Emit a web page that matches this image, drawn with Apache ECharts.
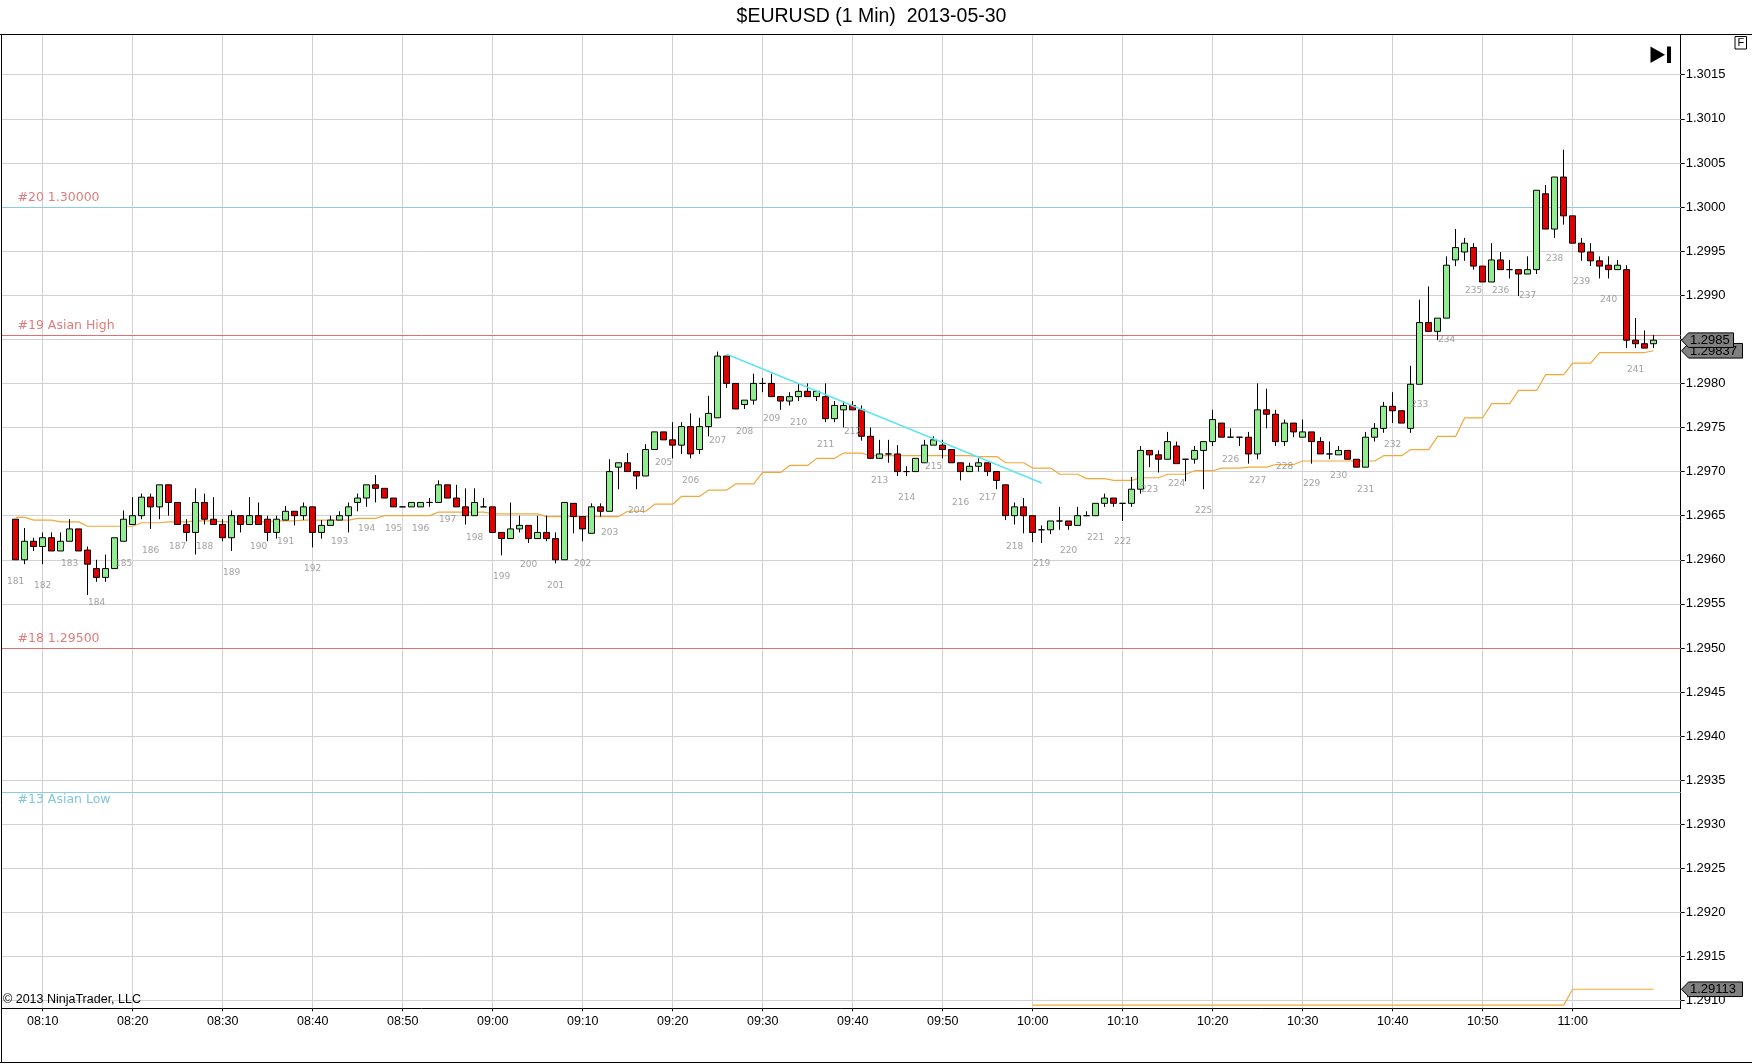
<!DOCTYPE html>
<html><head><meta charset="utf-8">
<script src="https://cdn.jsdelivr.net/npm/echarts@6/dist/echarts.min.js"></script>
<style>html,body{margin:0;padding:0;background:#fff;overflow:hidden}#c{width:1752px;height:1064px}</style>
</head><body><div id="c"></div>
<script>
const chartTitle = '$EURUSD (1 Min)  2013-05-30';
const copyrightText = '\u00A9 2013 NinjaTrader, LLC';
const firstBarTime = '08:07';

const opens = [
1.29646,1.29600,1.29621,1.29615,1.29625,1.29610,1.29621,1.29635,1.29611,1.29590,
1.29580,1.29590,1.29621,1.29640,1.29650,1.29671,1.29660,1.29685,1.29665,1.29640,
1.29631,1.29665,1.29646,1.29640,1.29625,1.29650,1.29640,1.29650,1.29646,1.29631,
1.29645,1.29655,1.29650,1.29660,1.29631,1.29639,1.29645,1.29650,1.29665,1.29670,
1.29685,1.29681,1.29670,1.29660,1.29660,1.29660,1.29665,1.29665,1.29685,1.29670,
1.29660,1.29650,1.29660,1.29660,1.29631,1.29624,1.29635,1.29639,1.29624,1.29631,
1.29624,1.29600,1.29664,1.29649,1.29630,1.29660,1.29655,1.29705,1.29710,1.29700,
1.29695,1.29725,1.29745,1.29736,1.29730,1.29751,1.29725,1.29751,1.29761,1.29831,
1.29800,1.29776,1.29781,1.29800,1.29800,1.29785,1.29780,1.29785,1.29791,1.29785,
1.29785,1.29760,1.29770,1.29775,1.29770,1.29740,1.29715,1.29720,1.29720,1.29700,
1.29700,1.29710,1.29730,1.29730,1.29725,1.29710,1.29700,1.29706,1.29710,1.29700,
1.29685,1.29650,1.29660,1.29650,1.29634,1.29634,1.29644,1.29644,1.29639,1.29650,
1.29650,1.29664,1.29670,1.29664,1.29664,1.29680,1.29724,1.29719,1.29714,1.29729,
1.29714,1.29714,1.29724,1.29734,1.29755,1.29739,1.29739,1.29739,1.29720,1.29770,
1.29765,1.29734,1.29755,1.29739,1.29745,1.29734,1.29720,1.29719,1.29724,1.29714,
1.29705,1.29739,1.29749,1.29774,1.29769,1.29749,1.29799,1.29869,1.29859,1.29874,
1.29940,1.29949,1.29954,1.29933,1.29915,1.29940,1.29929,1.29929,1.29924,1.29929,
1.30015,1.29975,1.30034,1.29990,1.29959,1.29949,1.29939,1.29934,1.29929,1.29929,
1.29849,1.29845,1.29845
];
const highs = [
1.29646,1.29636,1.29625,1.29631,1.29631,1.29631,1.29646,1.29635,1.29615,1.29600,
1.29606,1.29625,1.29656,1.29671,1.29675,1.29675,1.29685,1.29685,1.29665,1.29646,
1.29681,1.29675,1.29671,1.29646,1.29656,1.29650,1.29671,1.29665,1.29650,1.29650,
1.29661,1.29655,1.29665,1.29660,1.29645,1.29650,1.29655,1.29665,1.29675,1.29685,
1.29696,1.29681,1.29670,1.29660,1.29665,1.29665,1.29670,1.29690,1.29685,1.29685,
1.29681,1.29681,1.29670,1.29660,1.29631,1.29665,1.29650,1.29639,1.29650,1.29650,
1.29631,1.29665,1.29664,1.29649,1.29664,1.29664,1.29714,1.29710,1.29721,1.29700,
1.29731,1.29745,1.29745,1.29756,1.29756,1.29766,1.29761,1.29786,1.29836,1.29831,
1.29800,1.29781,1.29811,1.29806,1.29811,1.29785,1.29790,1.29800,1.29800,1.29791,
1.29800,1.29780,1.29780,1.29780,1.29775,1.29750,1.29736,1.29736,1.29730,1.29706,
1.29715,1.29736,1.29740,1.29736,1.29725,1.29710,1.29710,1.29715,1.29710,1.29700,
1.29685,1.29665,1.29670,1.29650,1.29639,1.29644,1.29660,1.29644,1.29660,1.29655,
1.29664,1.29675,1.29670,1.29664,1.29694,1.29729,1.29724,1.29724,1.29745,1.29734,
1.29714,1.29729,1.29734,1.29770,1.29755,1.29749,1.29739,1.29745,1.29800,1.29794,
1.29770,1.29759,1.29755,1.29759,1.29745,1.29739,1.29734,1.29729,1.29724,1.29714,
1.29745,1.29755,1.29779,1.29790,1.29769,1.29820,1.29895,1.29910,1.29874,1.29944,
1.29975,1.29965,1.29959,1.29933,1.29959,1.29949,1.29940,1.29929,1.29944,1.30019,
1.30025,1.30034,1.30065,1.29990,1.29965,1.29959,1.29944,1.29944,1.29940,1.29934,
1.29874,1.29860,1.29855
];
const lows = [
1.29600,1.29595,1.29610,1.29595,1.29610,1.29610,1.29621,1.29610,1.29560,1.29575,
1.29575,1.29590,1.29621,1.29640,1.29646,1.29635,1.29646,1.29650,1.29640,1.29621,
1.29606,1.29640,1.29640,1.29621,1.29610,1.29631,1.29640,1.29640,1.29621,1.29624,
1.29645,1.29639,1.29645,1.29614,1.29624,1.29639,1.29645,1.29631,1.29655,1.29660,
1.29665,1.29670,1.29660,1.29660,1.29660,1.29660,1.29660,1.29665,1.29670,1.29660,
1.29640,1.29650,1.29660,1.29631,1.29605,1.29624,1.29631,1.29619,1.29624,1.29621,
1.29596,1.29600,1.29630,1.29621,1.29630,1.29649,1.29655,1.29680,1.29700,1.29680,
1.29695,1.29725,1.29736,1.29715,1.29720,1.29715,1.29720,1.29740,1.29761,1.29795,
1.29771,1.29771,1.29776,1.29790,1.29785,1.29770,1.29775,1.29780,1.29785,1.29780,
1.29756,1.29756,1.29750,1.29770,1.29735,1.29715,1.29715,1.29710,1.29695,1.29695,
1.29700,1.29710,1.29730,1.29715,1.29710,1.29690,1.29700,1.29700,1.29695,1.29680,
1.29645,1.29640,1.29630,1.29620,1.29619,1.29629,1.29634,1.29634,1.29639,1.29650,
1.29650,1.29660,1.29660,1.29644,1.29660,1.29675,1.29705,1.29699,1.29714,1.29709,
1.29689,1.29709,1.29680,1.29729,1.29739,1.29739,1.29729,1.29709,1.29714,1.29749,
1.29729,1.29729,1.29739,1.29739,1.29709,1.29720,1.29714,1.29719,1.29714,1.29705,
1.29705,1.29734,1.29744,1.29755,1.29755,1.29744,1.29799,1.29859,1.29849,1.29874,
1.29933,1.29939,1.29929,1.29915,1.29915,1.29929,1.29919,1.29899,1.29924,1.29924,
1.29975,1.29965,1.29980,1.29959,1.29939,1.29933,1.29919,1.29919,1.29929,1.29840,
1.29840,1.29840,1.29840
];
const closes = [
1.29600,1.29621,1.29615,1.29625,1.29610,1.29621,1.29635,1.29610,1.29595,1.29580,
1.29590,1.29625,1.29646,1.29650,1.29671,1.29660,1.29685,1.29665,1.29640,1.29631,
1.29665,1.29646,1.29640,1.29625,1.29650,1.29640,1.29650,1.29640,1.29631,1.29646,
1.29655,1.29650,1.29660,1.29631,1.29639,1.29645,1.29650,1.29660,1.29670,1.29685,
1.29681,1.29670,1.29660,1.29660,1.29665,1.29665,1.29665,1.29685,1.29670,1.29660,
1.29650,1.29665,1.29660,1.29631,1.29624,1.29635,1.29639,1.29624,1.29631,1.29624,
1.29600,1.29665,1.29649,1.29635,1.29660,1.29655,1.29700,1.29710,1.29700,1.29695,
1.29725,1.29745,1.29736,1.29730,1.29751,1.29720,1.29751,1.29766,1.29831,1.29800,
1.29771,1.29781,1.29800,1.29800,1.29785,1.29780,1.29785,1.29791,1.29785,1.29791,
1.29760,1.29775,1.29775,1.29770,1.29740,1.29715,1.29720,1.29720,1.29700,1.29700,
1.29715,1.29730,1.29736,1.29725,1.29710,1.29700,1.29706,1.29710,1.29700,1.29690,
1.29650,1.29660,1.29650,1.29631,1.29634,1.29644,1.29644,1.29639,1.29650,1.29650,
1.29664,1.29670,1.29664,1.29664,1.29680,1.29724,1.29719,1.29714,1.29734,1.29709,
1.29714,1.29724,1.29734,1.29759,1.29739,1.29739,1.29739,1.29720,1.29770,1.29765,
1.29734,1.29755,1.29745,1.29745,1.29734,1.29720,1.29720,1.29724,1.29714,1.29705,
1.29739,1.29749,1.29774,1.29769,1.29755,1.29799,1.29869,1.29859,1.29874,1.29934,
1.29954,1.29959,1.29933,1.29915,1.29940,1.29929,1.29929,1.29924,1.29929,1.30019,
1.29975,1.30034,1.29990,1.29959,1.29949,1.29939,1.29933,1.29929,1.29934,1.29849,
1.29845,1.29840,1.29849
];

// orange indicator (one value per bar)
const indicatorLine = [
1.29648,1.29648,
1.29645,1.29645,1.29645, 1.29643,1.29643,1.29643, 1.29638,1.29638,1.29638, 1.29638,1.29638,1.29638,
1.29642,1.29642,1.29642, 1.29643,1.29643,1.29643, 1.29644,1.29644,1.29644, 1.29643,1.29643,1.29643,
1.29643,1.29643,1.29643, 1.29644,1.29644,1.29644, 1.29645,1.29645,1.29645, 1.29645,1.29645,1.29645,
1.29647,1.29647,1.29647, 1.29650,1.29650,1.29650, 1.29650,1.29650,1.29650, 1.29654,1.29654,1.29654,
1.29654,1.29654,1.29654, 1.29652,1.29652,1.29652, 1.29652,1.29652,1.29652, 1.29649,1.29649,1.29649,
1.29649,1.29649,1.29649, 1.29649,1.29649,1.29649, 1.29655,1.29655,1.29655, 1.29663,1.29663,1.29663,
1.29672,1.29672,1.29672, 1.29679,1.29679,1.29679, 1.29686,1.29686,1.29686, 1.29699,1.29699,1.29699,
1.29707,1.29707,1.29707, 1.29715,1.29715,1.29715, 1.29721,1.29721,1.29721, 1.29718,1.29718,1.29718,
1.29718,1.29718,1.29718, 1.29718,1.29718,1.29718, 1.29718,1.29718,1.29718, 1.29717,1.29717,1.29717,
1.29710,1.29710,1.29710, 1.29704,1.29704,1.29704, 1.29697,1.29697,1.29697, 1.29692,1.29692,1.29692,
1.29690,1.29690,1.29690, 1.29693,1.29693,1.29693, 1.29697,1.29697,1.29697, 1.29701,1.29701,1.29701,
1.29704,1.29704,1.29704, 1.29705,1.29705,1.29705, 1.29708,1.29708,1.29708, 1.29712,1.29712,1.29712,
1.29712,1.29712,1.29712, 1.29712,1.29712,1.29712, 1.29718,1.29718,1.29718, 1.29725,1.29725,1.29725,
1.29740,1.29740,1.29740, 1.29761,1.29761,1.29761, 1.29777,1.29777,1.29777, 1.29792,1.29792,1.29792,
1.29810,1.29810,1.29810, 1.29823,1.29823,1.29823, 1.29835,1.29835,1.29835, 1.29835,1.29835,1.29835,
1.29837
];

// lower orange level
const lowLevelTimes = ['10:00','10:59','11:00','11:09'];
const lowLevelValues = [1.29095,1.29095,1.29113,1.29113];

// bar-number labels (every third bar)
const barNumbers = ['181','182','183','184','185','186','187','188','189','190',
'191','192','193','194','195','196','197','198','199','200',
'201','202','203','204','205','206','207','208','209','210',
'211','212','213','214','215','216','217','218','219','220',
'221','222','223','224','225','226','227','228','229','230',
'231','232','233','234','235','236','237','238','239','240','241'];
const barNumberPrices = [
1.29575,1.29571,1.29596,1.29551,1.29596,1.29610,1.29615,1.29615,1.29585,1.29615,
1.29621,1.29590,1.29621,1.29635,1.29635,1.29635,1.29645,1.29625,1.29581,1.29595,
1.29571,1.29596,1.29631,1.29656,1.29710,1.29690,1.29735,1.29745,1.29760,1.29756,
1.29730,1.29745,1.29690,1.29671,1.29706,1.29665,1.29671,1.29615,1.29596,1.29610,
1.29625,1.29621,1.29680,1.29686,1.29656,1.29714,1.29690,1.29706,1.29686,1.29695,
1.29680,1.29731,1.29776,1.29850,1.29905,1.29905,1.29900,1.29941,1.29915,1.29895,
1.29816];

// horizontal drawn levels
const levelNames = ['#20 1.30000','#19 Asian High','#18 1.29500','#13 Asian Low'];
const levelPrices = [1.30000,1.29855,1.29500,1.29336];

// trend line
const trendTimes = ['09:26','10:01'];
const trendPrices = [1.29833,1.29687];

// axis ticks
const timeTicks = ['08:10','08:20','08:30','08:40','08:50','09:00','09:10','09:20','09:30',
'09:40','09:50','10:00','10:10','10:20','10:30','10:40','10:50','11:00'];
const priceTicks = [1.2910,1.2915,1.2920,1.2925,1.2930,1.2935,1.2940,1.2945,1.2950,1.2955,
1.2960,1.2965,1.2970,1.2975,1.2980,1.2985,1.2990,1.2995,1.3000,1.3005,1.3010,1.3015];

// ---------- build ----------
const toMin = s => { const p = s.split(':').map(Number); return p[0]*60 + p[1]; };
const fmtTime = v => { const m = Math.round(v); const h = Math.floor(m/60), mm = m % 60;
  return String(h).padStart(2,'0') + ':' + String(mm).padStart(2,'0'); };
const t0 = toMin(firstBarTime);
const barX = opens.map((_, i) => t0 + i);
const candleData = opens.map((o, i) => [barX[i], o, closes[i], lows[i], highs[i]]);
const indicatorData = indicatorLine.map((v, i) => [barX[i], v]);
const lowLevelData = lowLevelTimes.map((t, i) => [toMin(t), lowLevelValues[i]]);
const numberData = barNumbers.map((n, k) => [barX[3*k], barNumberPrices[k], n]);
const tickMins = timeTicks.map(toMin);

const levelStyle = [
  {line:'#8ccbe6', text:'#e37b7b', dy:-9},
  {line:'#de7070', text:'#e37b7b', dy:-9},
  {line:'#de7070', text:'#e37b7b', dy:-9},
  {line:'#8ccbe6', text:'#7fc6dc', dy:7}
];

const chart = echarts.init(document.getElementById('c'), null, {renderer:'canvas'});
const option = {
  animation: false,
  backgroundColor: '#ffffff',
  grid: {left: 2, right: 71.3, top: 34.7, bottom: 55.7, containLabel: false},
  xAxis: {
    type: 'value', min: t0 - 1.522, max: t0 + 185, position: 'bottom',
    axisLine: {show: true, onZero: false, lineStyle: {color: '#000', width: 1}},
    axisTick: {show: true, length: 3, lineStyle: {color: '#000'}, customValues: tickMins},
    axisLabel: {show: true, customValues: tickMins, formatter: v => fmtTime(v), color: '#000',
      fontFamily: '"Liberation Sans", Arial', fontSize: 12.5, margin: 7},
    splitLine: {show: false}
  },
  yAxis: {
    type: 'value', position: 'right', min: 1.290914, max: 1.301954,
    axisLine: {show: true, onZero: false, lineStyle: {color: '#000', width: 1}},
    axisTick: {show: true, length: 4, lineStyle: {color: '#000'}, customValues: priceTicks},
    axisLabel: {show: true, customValues: priceTicks, formatter: v => v.toFixed(4), color: '#000',
      fontFamily: '"Liberation Sans", Arial', fontSize: 13, margin: 5},
    splitLine: {show: false}
  },
  series: [
    { // grid lines
      type: 'line', data: [[barX[0], closes[0]]], symbol: 'none', silent: true, z: 1,
      lineStyle: {opacity: 0},
      markLine: {
        silent: true, symbol: ['none','none'], animation: false, z: 1, precision: 6,
        label: {show: false},
        lineStyle: {color: '#d2d2d2', width: 1, type: 'solid'},
        emphasis: {disabled: true},
        data: priceTicks.map(v => ({yAxis: v})).concat(tickMins.map(v => ({xAxis: v})))
      }
    },
    { // drawn levels
      type: 'line', data: [[barX[0], closes[0]]], symbol: 'none', silent: true, z: 2,
      lineStyle: {opacity: 0},
      markLine: {
        silent: true, symbol: ['none','none'], animation: false, z: 2, precision: 6,
        label: {show: false},
        emphasis: {disabled: true},
        data: levelPrices.map((p, i) => ({yAxis: p, lineStyle: {color: levelStyle[i].line, width: 1, type: 'solid'}}))
      }
    },
    { // orange indicator
      type: 'line', data: indicatorData, symbol: 'none', silent: true, z: 2,
      lineStyle: {color: '#f2a93b', width: 1.2}
    },
    { // lower orange level
      type: 'line', data: lowLevelData, symbol: 'none', silent: true, z: 2,
      lineStyle: {color: '#f2a93b', width: 1.2}
    },
    { // candles
      type: 'candlestick', data: candleData, encode: {x: 0, y: [1,2,3,4]},
      barWidth: 7, z: 3, silent: true, large: false,
      itemStyle: {color: '#90ee90', color0: '#e00000', borderColor: '#000', borderColor0: '#000', borderWidth: 1}
    },
    { // bar numbers
      type: 'scatter', data: numberData, encode: {x: 0, y: 1}, symbol: 'circle', symbolSize: 1,
      itemStyle: {color: 'rgba(0,0,0,0)'}, z: 4, silent: true,
      label: {show: true, position: 'inside', formatter: p => p.data[2], color: '#8a8a8a',
        fontFamily: '"DejaVu Sans", Verdana', fontSize: 9}
    },
    { // trend line
      type: 'line', data: [[barX[0], closes[0]]], symbol: 'none', silent: true, z: 5,
      lineStyle: {opacity: 0},
      markLine: {
        silent: true, symbol: ['none','none'], animation: false, z: 5, precision: 6,
        label: {show: false}, emphasis: {disabled: true},
        lineStyle: {color: '#5ee6ee', width: 1.5, type: 'solid'},
        data: [[{coord: [toMin(trendTimes[0]), trendPrices[0]]}, {coord: [toMin(trendTimes[1]), trendPrices[1]]}]]
      }
    }
  ]
};
chart.setOption(option);

// ---------- decorations placed through the chart's scales ----------
const py = v => chart.convertToPixel({gridIndex: 0}, [barX[0], v])[1];
const g = [];
let zc = 100;
const W = 1752, H = 1064;
g.push({type:'text', x: 871.5, y: 17, z: zc++, style:{text: chartTitle, fill:'#000',
  font:'19.5px "Liberation Sans", Arial', align:'center', verticalAlign:'middle'}});
// frame
g.push({type:'line', z: zc++, shape:{x1:0, y1:34.5, x2:W, y2:34.5}, style:{stroke:'#000', lineWidth:1}});
g.push({type:'line', z: zc++, shape:{x1:1.5, y1:34.5, x2:1.5, y2:H-1.5}, style:{stroke:'#000', lineWidth:1}});
g.push({type:'line', z: zc++, shape:{x1:0, y1:H-1.5, x2:W, y2:H-1.5}, style:{stroke:'#000', lineWidth:1}});
// F box
g.push({type:'rect', z: zc++, shape:{x:1735, y:36.5, width:11.5, height:12.5}, style:{fill:'#fff', stroke:'#000', lineWidth:1}});
g.push({type:'text', x:1740.8, y:43, z: zc++, style:{text:'F', fill:'#000', font:'11px "Liberation Sans", Arial', align:'center', verticalAlign:'middle'}});
// play-to-end icon
g.push({type:'polygon', z: zc++, shape:{points:[[1650.5,46.5],[1650.5,63],[1665,54.8]]}, style:{fill:'#000'}});
g.push({type:'rect', z: zc++, shape:{x:1667, y:46.5, width:4, height:16.5}, style:{fill:'#000'}});
// copyright
g.push({type:'text', x:3, y:999.5, z: zc++, style:{text: copyrightText, fill:'#000',
  font:'12.5px "Liberation Sans", Arial', align:'left', verticalAlign:'middle'}});
// level labels
levelNames.forEach((name, i) => {
  g.push({type:'text', x:17.5, y: py(levelPrices[i]) + levelStyle[i].dy, z: zc++,
    style:{text: name, fill: levelStyle[i].text, font:'12.5px "DejaVu Sans", Verdana',
      align:'left', verticalAlign:'middle'}});
});
// price tags on the right axis
function tag(price, text, w) {
  const yc = py(price), x0 = 1681.5, h = 7.3;
  g.push({type:'polygon', z: zc++, shape:{points:[[x0,yc],[x0+7,yc-h],[x0+w,yc-h],[x0+w,yc+h],[x0+7,yc+h]]},
    style:{fill:'#808080', stroke:'#000', lineWidth:1}});
  g.push({type:'text', x: x0+8.5, y: yc+0.5, z: zc++, style:{text, fill:'#000',
    font:'13px "Liberation Sans", Arial', align:'left', verticalAlign:'middle'}});
}
const lastIndicator = indicatorLine[indicatorLine.length-1];
const lastClose = closes[closes.length-1];
const lastLow = lowLevelValues[lowLevelValues.length-1];
tag(lastLow, lastLow.toFixed(5), 61);
tag(lastIndicator, lastIndicator.toFixed(5), 61);
tag(lastClose, lastClose.toFixed(4), 52);
chart.setOption({graphic: g});
</script>
</body></html>
